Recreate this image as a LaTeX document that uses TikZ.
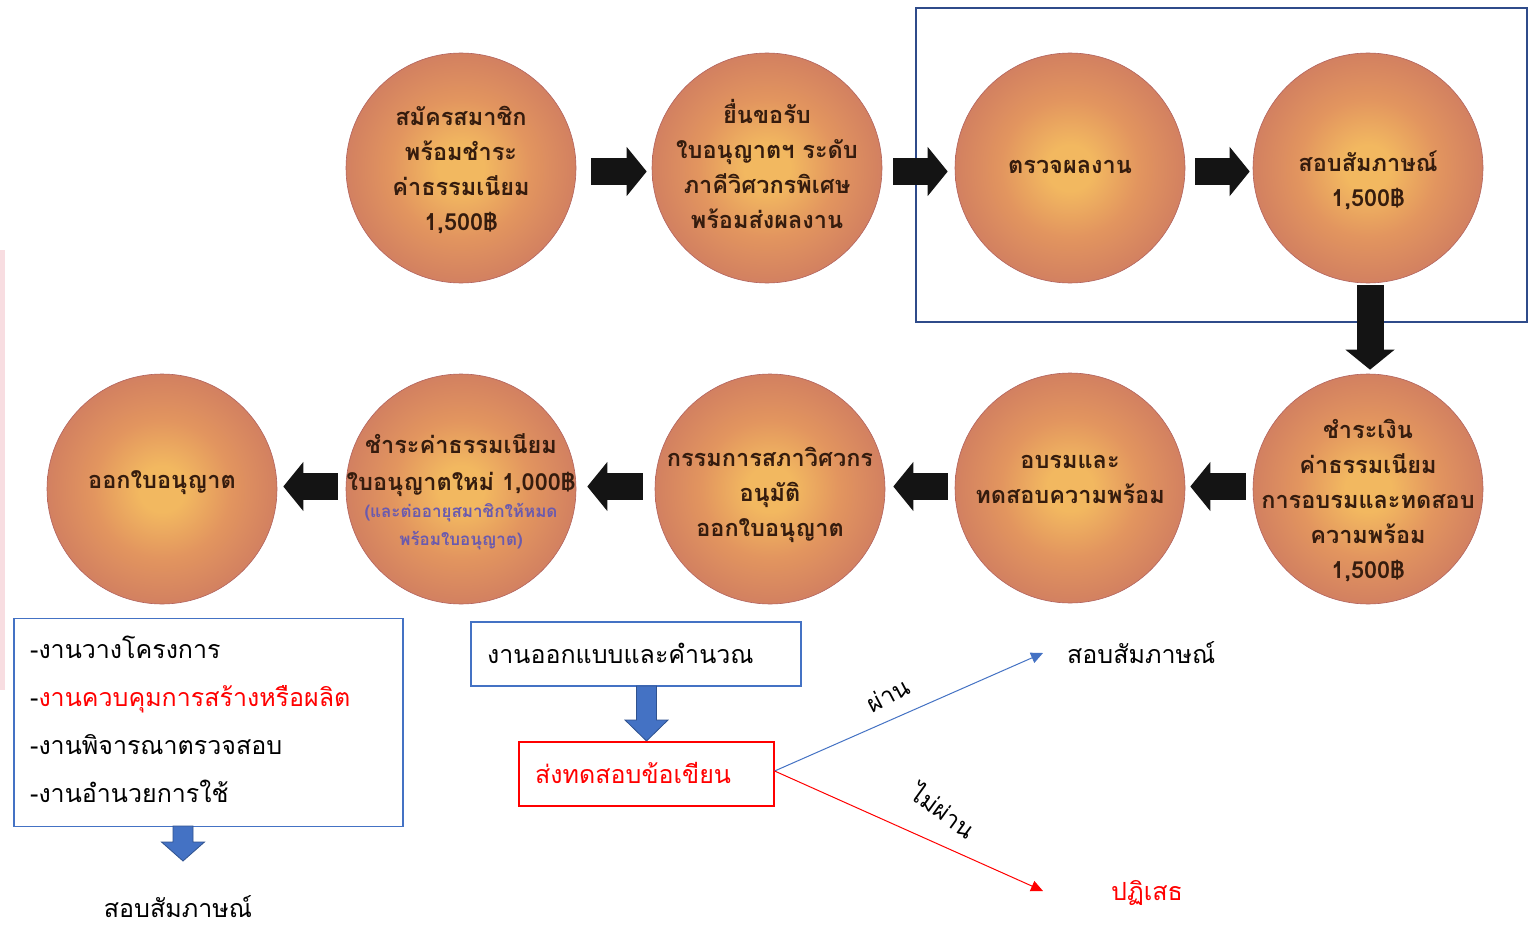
\documentclass[tikz,border=0pt]{standalone}
\usepackage{fontspec}
\newfontfamily\thai[Script=Thai]{Loma}
\usetikzlibrary{arrows.meta,calc}
\definecolor{cA}{HTML}{F2B860}
\definecolor{cB}{HTML}{E2955F}
\definecolor{cC}{HTML}{CF7C61}
\definecolor{cD}{HTML}{C26B60}
\definecolor{cE}{HTML}{B2635E}
\definecolor{ctext}{HTML}{351C0E}
\definecolor{ptext}{HTML}{6A5AAE}
\definecolor{boxblue}{HTML}{4472C4}
\definecolor{darkblue}{HTML}{2F4B8A}
\definecolor{arrblue}{HTML}{2F528F}
\definecolor{pinkbg}{HTML}{F8DDE1}
\definecolor{thred}{HTML}{FF0000}
\pgfdeclareradialshading{ballsh}{\pgfpoint{0bp}{0bp}}{color(0bp)=(cA); color(5bp)=(cA); color(15bp)=(cB); color(27bp)=(cC); color(42bp)=(cD); color(50bp)=(cE); color(100bp)=(cE)}
\tikzset{
  ball/.style={circle, minimum size=230pt, inner sep=0pt, shade, shading=ballsh, draw=cE, line width=0.6pt},
  ctxt/.style={text=ctext, align=center, inner sep=0pt, font=\thai\bfseries\fontsize{23.5}{35}\selectfont},
  ptxt/.style={text=ptext, align=center, inner sep=0pt, font=\thai\bfseries\fontsize{17}{28}\selectfont},
  blk/.style={line width=27pt, draw=black!92, -{Triangle[width=48pt,length=20pt]}},
  bodytxt/.style={anchor=base west, inner sep=0pt, font=\thai\fontsize{25}{30}\selectfont},
  thinbox/.style={draw=boxblue, line width=1.2pt, inner sep=0pt},
  bluearr/.style={fill=boxblue, draw=arrblue, line width=0.8pt}
}
\begin{document}
\begin{tikzpicture}[x=1pt,y=-1pt]
\useasboundingbox (0,0) rectangle (1533,931);
\fill[white] (0,0) rectangle (1533,931);
\fill[pinkbg] (0,250) rectangle (5,690);

% frame around top-right
\draw[darkblue, line width=1.6pt] (916,8) rectangle (1527,322);

% circles
\node[ball] (c1) at (461,168) {};
\node[ball] (c2) at (767,168) {};
\node[ball] (c3) at (1070,168) {};
\node[ball] (c4) at (1368,168) {};
\node[ball] (c6) at (162,489) {};
\node[ball] (c7) at (461,489) {};
\node[ball] (c8) at (770,489) {};
\node[ball] (c9) at (1070,488) {};
\node[ball] (c10) at (1368,489) {};

% circle texts
\node[ctxt] (t1) at (461,170) {สมัครสมาชิก\\พร้อมชำระ\\ค่าธรรมเนียม\\1,500฿};
\node[ctxt] (t2) at (767,164) {ยื่นขอรับ\\ใบอนุญาตฯ ระดับ\\ภาคีวิศวกรพิเศษ\\พร้อมส่งผลงาน};
\node[ctxt] (t3) at (1070,167) {ตรวจผลงาน};
\node[ctxt] (t4) at (1368,180) {สอบสัมภาษณ์\\1,500฿};
\node[ctxt] (t6) at (162,483) {ออกใบอนุญาต};
\node[ctxt, font=\thai\bfseries\fontsize{23.5}{37}\selectfont] (t7) at (461,465) {ชำระค่าธรรมเนียม\\ใบอนุญาตใหม่ 1,000฿};
\node[ptxt] (t7b) at (461,527) {(และต่ออายุสมาชิกให้หมด\\พร้อมใบอนุญาต)};
\node[ctxt] (t8) at (770,495) {กรรมการสภาวิศวกร\\อนุมัติ\\ออกใบอนุญาต};
\node[ctxt] (t9) at (1070,479) {อบรมและ\\ทดสอบความพร้อม};
\node[ctxt] (t10) at (1368,501) {ชำระเงิน\\ค่าธรรมเนียม\\การอบรมและทดสอบ\\ความพร้อม\\1,500฿};

% black block arrows
\draw[blk] ($(c1.east)+(15,3.5)$) -- ($(c2.west)+(-5,3.5)$);
\draw[blk] ($(c2.east)+(11,3.5)$) -- ($(c3.west)+(-7,3.5)$);
\draw[blk] ($(c3.east)+(10,3.5)$) -- ($(c4.west)+(-3,3.5)$);
\draw[blk] ($(c4.south)+(2,2)$) -- ($(c10.north)+(2,-4)$);
\draw[blk] ($(c10.west)+(-7,-2.5)$) -- ($(c9.east)+(5,-1.5)$);
\draw[blk] ($(c9.west)+(-7,-1.5)$) -- ($(c8.east)+(8,-2.5)$);
\draw[blk] ($(c8.west)+(-12,-2.5)$) -- ($(c7.east)+(11,-2.5)$);
\draw[blk] ($(c7.west)+(-8,-2.5)$) -- ($(c6.east)+(6,-2.5)$);

% left box
\node[thinbox, minimum width=389pt, minimum height=208pt] (lbox) at (208.5,722.5) {};
\node[bodytxt] (l1) at (30,658) {-งานวางโครงการ};
\node[bodytxt] (l2) at (30,706) {-\textcolor{thred}{งานควบคุมการสร้างหรือผลิต}};
\node[bodytxt] (l3) at (30,754) {-งานพิจารณาตรวจสอบ};
\node[bodytxt] (l4) at (30,802) {-งานอำนวยการใช้};
\filldraw[bluearr] (173,826) -- (193,826) -- (193,842) -- (204.5,842) -- (183,861) -- (161.5,842) -- (173,842) -- cycle;
\node[bodytxt, anchor=base] (s1) at (178,917) {สอบสัมภาษณ์};

% middle boxes
\node[thinbox, minimum width=330pt, minimum height=64pt] (mbox) at (636,654) {};
\node[bodytxt] (m1) at (487,663) {งานออกแบบและคำนวณ};
\filldraw[bluearr] (636.5,686) -- (656.5,686) -- (656.5,720) -- (668,720) -- (646.5,741) -- (625,720) -- (636.5,720) -- cycle;
\node[draw=thred, line width=1.2pt, inner sep=0pt, minimum width=255pt, minimum height=64pt] (rbox) at (646.5,774) {};
\node[bodytxt, text=thred] (r1) at (535,783) {ส่งทดสอบข้อเขียน};

% outcomes
\coordinate (pe) at (1043,653);
\coordinate (fe) at (1043,891);
\draw[boxblue, line width=1pt, -{Triangle[width=11pt,length=12pt]}] ($(rbox.east)+(0,-3)$) -- (pe);
\draw[thred, line width=1pt, -{Triangle[width=11pt,length=12pt]}] ($(rbox.east)+(0,-3)$) -- (fe);
\node[inner sep=0pt, rotate=28, font=\thai\fontsize{24}{28}\selectfont] (lp) at (888,695) {ผ่าน};
\node[inner sep=0pt, rotate=-36, font=\thai\fontsize{24}{28}\selectfont] (lf) at (944,810) {ไม่ผ่าน};
\node[bodytxt] (s2) at (1067,663) {สอบสัมภาษณ์};
\node[bodytxt, text=thred] (s3) at (1111,900) {ปฏิเสธ};
\end{tikzpicture}
\end{document}
